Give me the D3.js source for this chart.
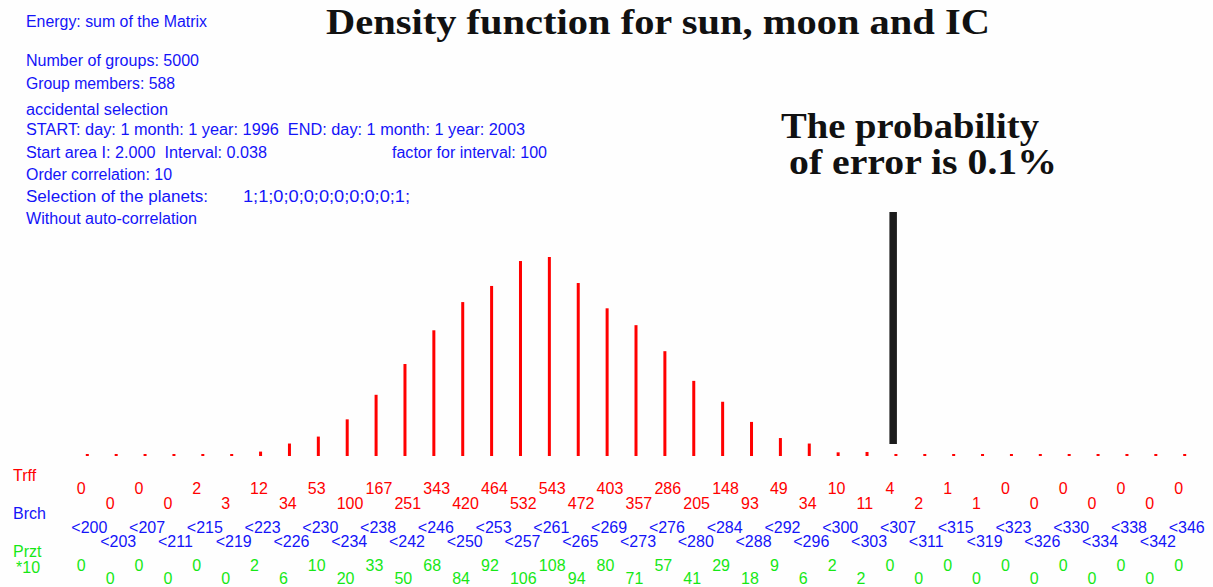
<!DOCTYPE html>
<html>
<head>
<meta charset="utf-8">
<script src="https://cdn.jsdelivr.net/npm/d3@7"></script>
<style>
  body { margin: 0; background: #fefefe; }
</style>
</head>
<body>
<div id="chart"></div>
<script>
// hits per class (Trff), class bounds (Brch), per mille (Przt *10)
var trff = [0,0,0,0,2,3,12,34,53,100,167,251,343,420,464,532,543,472,403,357,
            286,205,148,93,49,34,10,11,4,2,1,1,0,0,0,0,0,0,0];
var brch = ["<200","<203","<207","<211","<215","<219","<223","<226","<230","<234",
            "<238","<242","<246","<250","<253","<257","<261","<265","<269","<273",
            "<276","<280","<284","<288","<292","<296","<300","<303","<307","<311",
            "<315","<319","<323","<326","<330","<334","<338","<342","<346"];
var przt = [0,0,0,0,0,0,2,6,10,20,33,50,68,84,92,106,108,94,80,71,
            57,41,29,18,9,6,2,2,0,0,0,0,0,0,0,0,0,0,0];

// index of the class where the 0.1% error line stands
var errorIndex = 28;

// header lines: [text, x, baseline, width]
var infoLines = [
    ["Energy: sum of the Matrix", 26, 26.5, 181],
    ["Number of groups: 5000", 26, 66, 173],
    ["Group members: 588", 26, 89, 149],
    ["accidental selection", 26, 115, 142],
    ["START: day: 1 month: 1 year: 1996  END: day: 1 month: 1 year: 2003", 26, 135, 499],
    ["Start area I: 2.000  Interval: 0.038", 26, 157.5, 241],
    ["factor for interval: 100", 392, 157.5, 155],
    ["Order correlation: 10", 26, 179.5, 146],
    ["Selection of the planets:", 26, 201.5, 182],
    ["1;1;0;0;0;0;0;0;0;0;1;", 243, 201.5, 167],
    ["Without auto-correlation", 26, 224, 171]
];

var W = 1213, H = 587;
var RED = "#ff0000", BLUE = "#1414f8", GREEN = "#16e816";
var SANS = "'Liberation Sans', Arial, sans-serif";
var SERIF = "'Liberation Serif', 'Times New Roman', serif";

var svg = d3.select("#chart").append("svg")
    .attr("width", W)
    .attr("height", H)
    .style("font-family", SANS);

var x = d3.scalePoint()
    .domain(d3.range(trff.length))
    .range([87.3, 1184.7]);

var base = 456;
var y = d3.scaleLinear()
    .domain([0, d3.max(trff)])
    .range([base, 257]);

// header text
svg.selectAll("text.info").data(infoLines).enter().append("text")
    .attr("class", "info")
    .attr("x", function(d) { return d[1]; })
    .attr("y", function(d) { return d[2]; })
    .attr("textLength", function(d) { return d[3]; })
    .attr("lengthAdjust", "spacingAndGlyphs")
    .attr("font-size", 16)
    .attr("fill", BLUE)
    .style("white-space", "pre")
    .text(function(d) { return d[0]; });

// big serif captions: [text, x, baseline, width]
var captions = [
    ["Density function for sun, moon and IC", 326, 33.5, 664],
    ["The probability", 781, 137.5, 258],
    ["of error is 0.1%", 789, 174, 268]
];
svg.selectAll("text.caption").data(captions).enter().append("text")
    .attr("class", "caption")
    .attr("x", function(d) { return d[1]; })
    .attr("y", function(d) { return d[2]; })
    .attr("textLength", function(d) { return d[3]; })
    .attr("lengthAdjust", "spacingAndGlyphs")
    .attr("font-size", 35)
    .attr("fill", "#111")
    .style("font-family", SERIF)
    .style("font-weight", "bold")
    .text(function(d) { return d[0]; });

// bars (a short dash when the value is tiny)
svg.selectAll("rect.bar").data(trff).enter().append("rect")
    .attr("class", "bar")
    .attr("x", function(d, i) { return x(i) - 1.5; })
    .attr("y", function(d) { return Math.min(y(d), base - 2); })
    .attr("width", 3)
    .attr("height", function(d) { return Math.max(base - y(d), 2); })
    .attr("fill", RED);

// the error marker
svg.append("rect")
    .attr("x", x(errorIndex) - 6.5)
    .attr("y", 212)
    .attr("width", 7.5)
    .attr("height", 232)
    .attr("fill", "#1c1c1c");

// row titles
var rowTitles = [["Trff", 13, 481, RED], ["Brch", 13, 519, BLUE],
                 ["Przt", 13, 557, GREEN], ["*10", 16, 573, GREEN]];
svg.selectAll("text.row").data(rowTitles).enter().append("text")
    .attr("class", "row")
    .attr("x", function(d) { return d[1]; })
    .attr("y", function(d) { return d[2]; })
    .attr("font-size", 16)
    .attr("fill", function(d) { return d[3]; })
    .text(function(d) { return d[0]; });

// value rows, alternating between two lines
function valueRow(cls, data, dx, yTop, yLow, color) {
    svg.selectAll("text." + cls).data(data).enter().append("text")
        .attr("class", cls)
        .attr("x", function(d, i) { return x(i) + dx; })
        .attr("y", function(d, i) { return i % 2 === 0 ? yTop : yLow; })
        .attr("font-size", 16)
        .attr("fill", color)
        .text(function(d) { return d; });
}

valueRow("trff", trff, -10.5, 494, 509, RED);
valueRow("brch", brch, -16, 533, 547, BLUE);
valueRow("przt", przt, -10.5, 571, 584, GREEN);
</script>
</body>
</html>
